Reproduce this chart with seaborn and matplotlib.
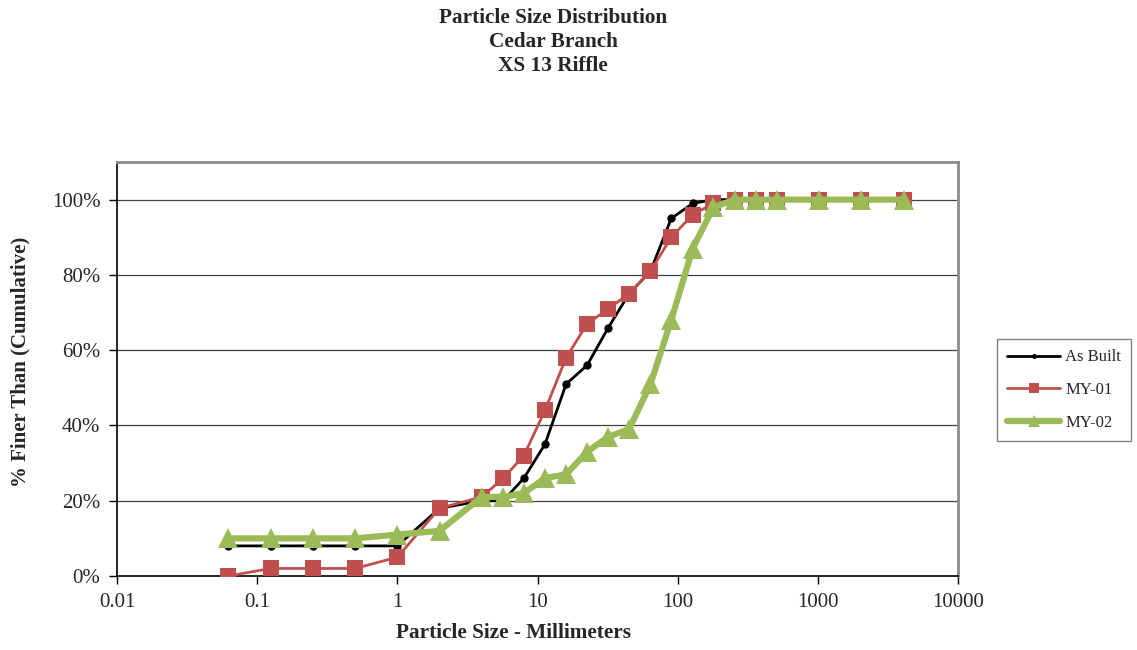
import numpy as np
import pandas as pd
import matplotlib
matplotlib.use("Agg")
import matplotlib.pyplot as plt
import seaborn as sns
from matplotlib.ticker import FixedLocator, FixedFormatter, NullLocator

sizes_asbuilt = [0.062, 0.125, 0.25, 0.5, 1, 2, 4, 5.7, 8, 11.3, 16, 22.6, 32, 45, 64, 90, 128, 180, 256]
asbuilt = [8, 8, 8, 8, 8, 18, 20, 20, 26, 35, 51, 56, 66, 75, 81, 95, 99, 100, 100]

sizes = [0.062, 0.125, 0.25, 0.5, 1, 2, 4, 5.7, 8, 11.3, 16, 22.6, 32, 45, 64, 90,
         128, 180, 256, 362, 512, 1024, 2048, 4096]
my01 = [0, 2, 2, 2, 5, 18, 21, 26, 32, 44, 58, 67, 71, 75, 81, 90,
        96, 99, 100, 100, 100, 100, 100, 100]
my02 = [10, 10, 10, 10, 11, 12, 21, 21, 22, 26, 27, 33, 37, 39, 51, 68,
        87, 98, 100, 100, 100, 100, 100, 100]

x_ticks = [0.01, 0.1, 1, 10, 100, 1000, 10000]
x_tick_labels = ["0.01", "0.1", "1", "10", "100", "1000", "10000"]
y_ticks = [0, 20, 40, 60, 80, 100]
y_tick_labels = ["0%", "20%", "40%", "60%", "80%", "100%"]

sns.set_style("white")
plt.rcParams['font.family'] = ['Liberation Serif', 'DejaVu Serif']

fig = plt.figure(figsize=(11.37, 6.5), dpi=100)
ax = fig.add_axes([117/1137, 1-576/650, (958-117)/1137, (576-162)/650])

df_ab = pd.DataFrame({"size": sizes_asbuilt, "pct": asbuilt})
df_01 = pd.DataFrame({"size": sizes, "pct": my01})
df_02 = pd.DataFrame({"size": sizes, "pct": my02})

for y in y_ticks[1:]:
    ax.axhline(y, color="#404040", lw=0.9, zorder=0)

sns.lineplot(data=df_ab, x="size", y="pct", ax=ax, sort=False, color="black",
             lw=2.0, marker="o", markersize=6, markeredgewidth=0, label="As Built", zorder=3)
sns.lineplot(data=df_01, x="size", y="pct", ax=ax, sort=False, color="#C0504D",
             lw=2.0, marker="s", markersize=11, markeredgewidth=0, label="MY-01", zorder=4)
sns.lineplot(data=df_02, x="size", y="pct", ax=ax, sort=False, color="#9BBB59",
             lw=4.5, marker="^", markersize=15, markeredgewidth=0, label="MY-02", zorder=5)

ax.set_xscale("log")
ax.set_xlim(0.01, 10000)
ax.set_ylim(0, 110)
ax.xaxis.set_major_locator(FixedLocator(x_ticks))
ax.xaxis.set_major_formatter(FixedFormatter(x_tick_labels))
ax.xaxis.set_minor_locator(NullLocator())
ax.yaxis.set_major_locator(FixedLocator(y_ticks))
ax.yaxis.set_major_formatter(FixedFormatter(y_tick_labels))
ax.tick_params(axis="both", which="major", direction="out", length=6, width=1,
               labelsize=15, color="black", pad=6, bottom=True, left=True)

for side in ["left", "bottom"]:
    ax.spines[side].set_color("black")
    ax.spines[side].set_linewidth(1.2)
for side in ["top", "right"]:
    ax.spines[side].set_visible(True)
    ax.spines[side].set_color("#8c8c8c")
    ax.spines[side].set_linewidth(2.0)

ax.set_xlabel("")
ax.set_ylabel("")
fig.text(514/1137, 1-633/650, "Particle Size - Millimeters", ha="center", va="center",
         fontsize=15.3, fontweight="bold")
fig.text(20/1137, 1-362/650, "% Finer Than (Cumulative)", ha="center", va="center",
         rotation=90, fontsize=15, fontweight="bold")

fig.text(553/1137, 1-42/650, "Particle Size Distribution\nCedar Branch\nXS 13 Riffle",
         ha="center", va="center", fontsize=15.3, fontweight="bold", linespacing=1.27)

leg = ax.legend(loc="center left", bbox_to_anchor=(997/1137, 1-390/650),
                bbox_transform=fig.transFigure, frameon=True, fancybox=False,
                fontsize=12, markerscale=0.6, handlelength=3.2, borderpad=0.6,
                labelspacing=1.0, handletextpad=0.3, borderaxespad=0)
leg.get_frame().set_edgecolor("#606060")
leg.get_frame().set_linewidth(1.0)

fig.savefig("out.png", dpi=100)
